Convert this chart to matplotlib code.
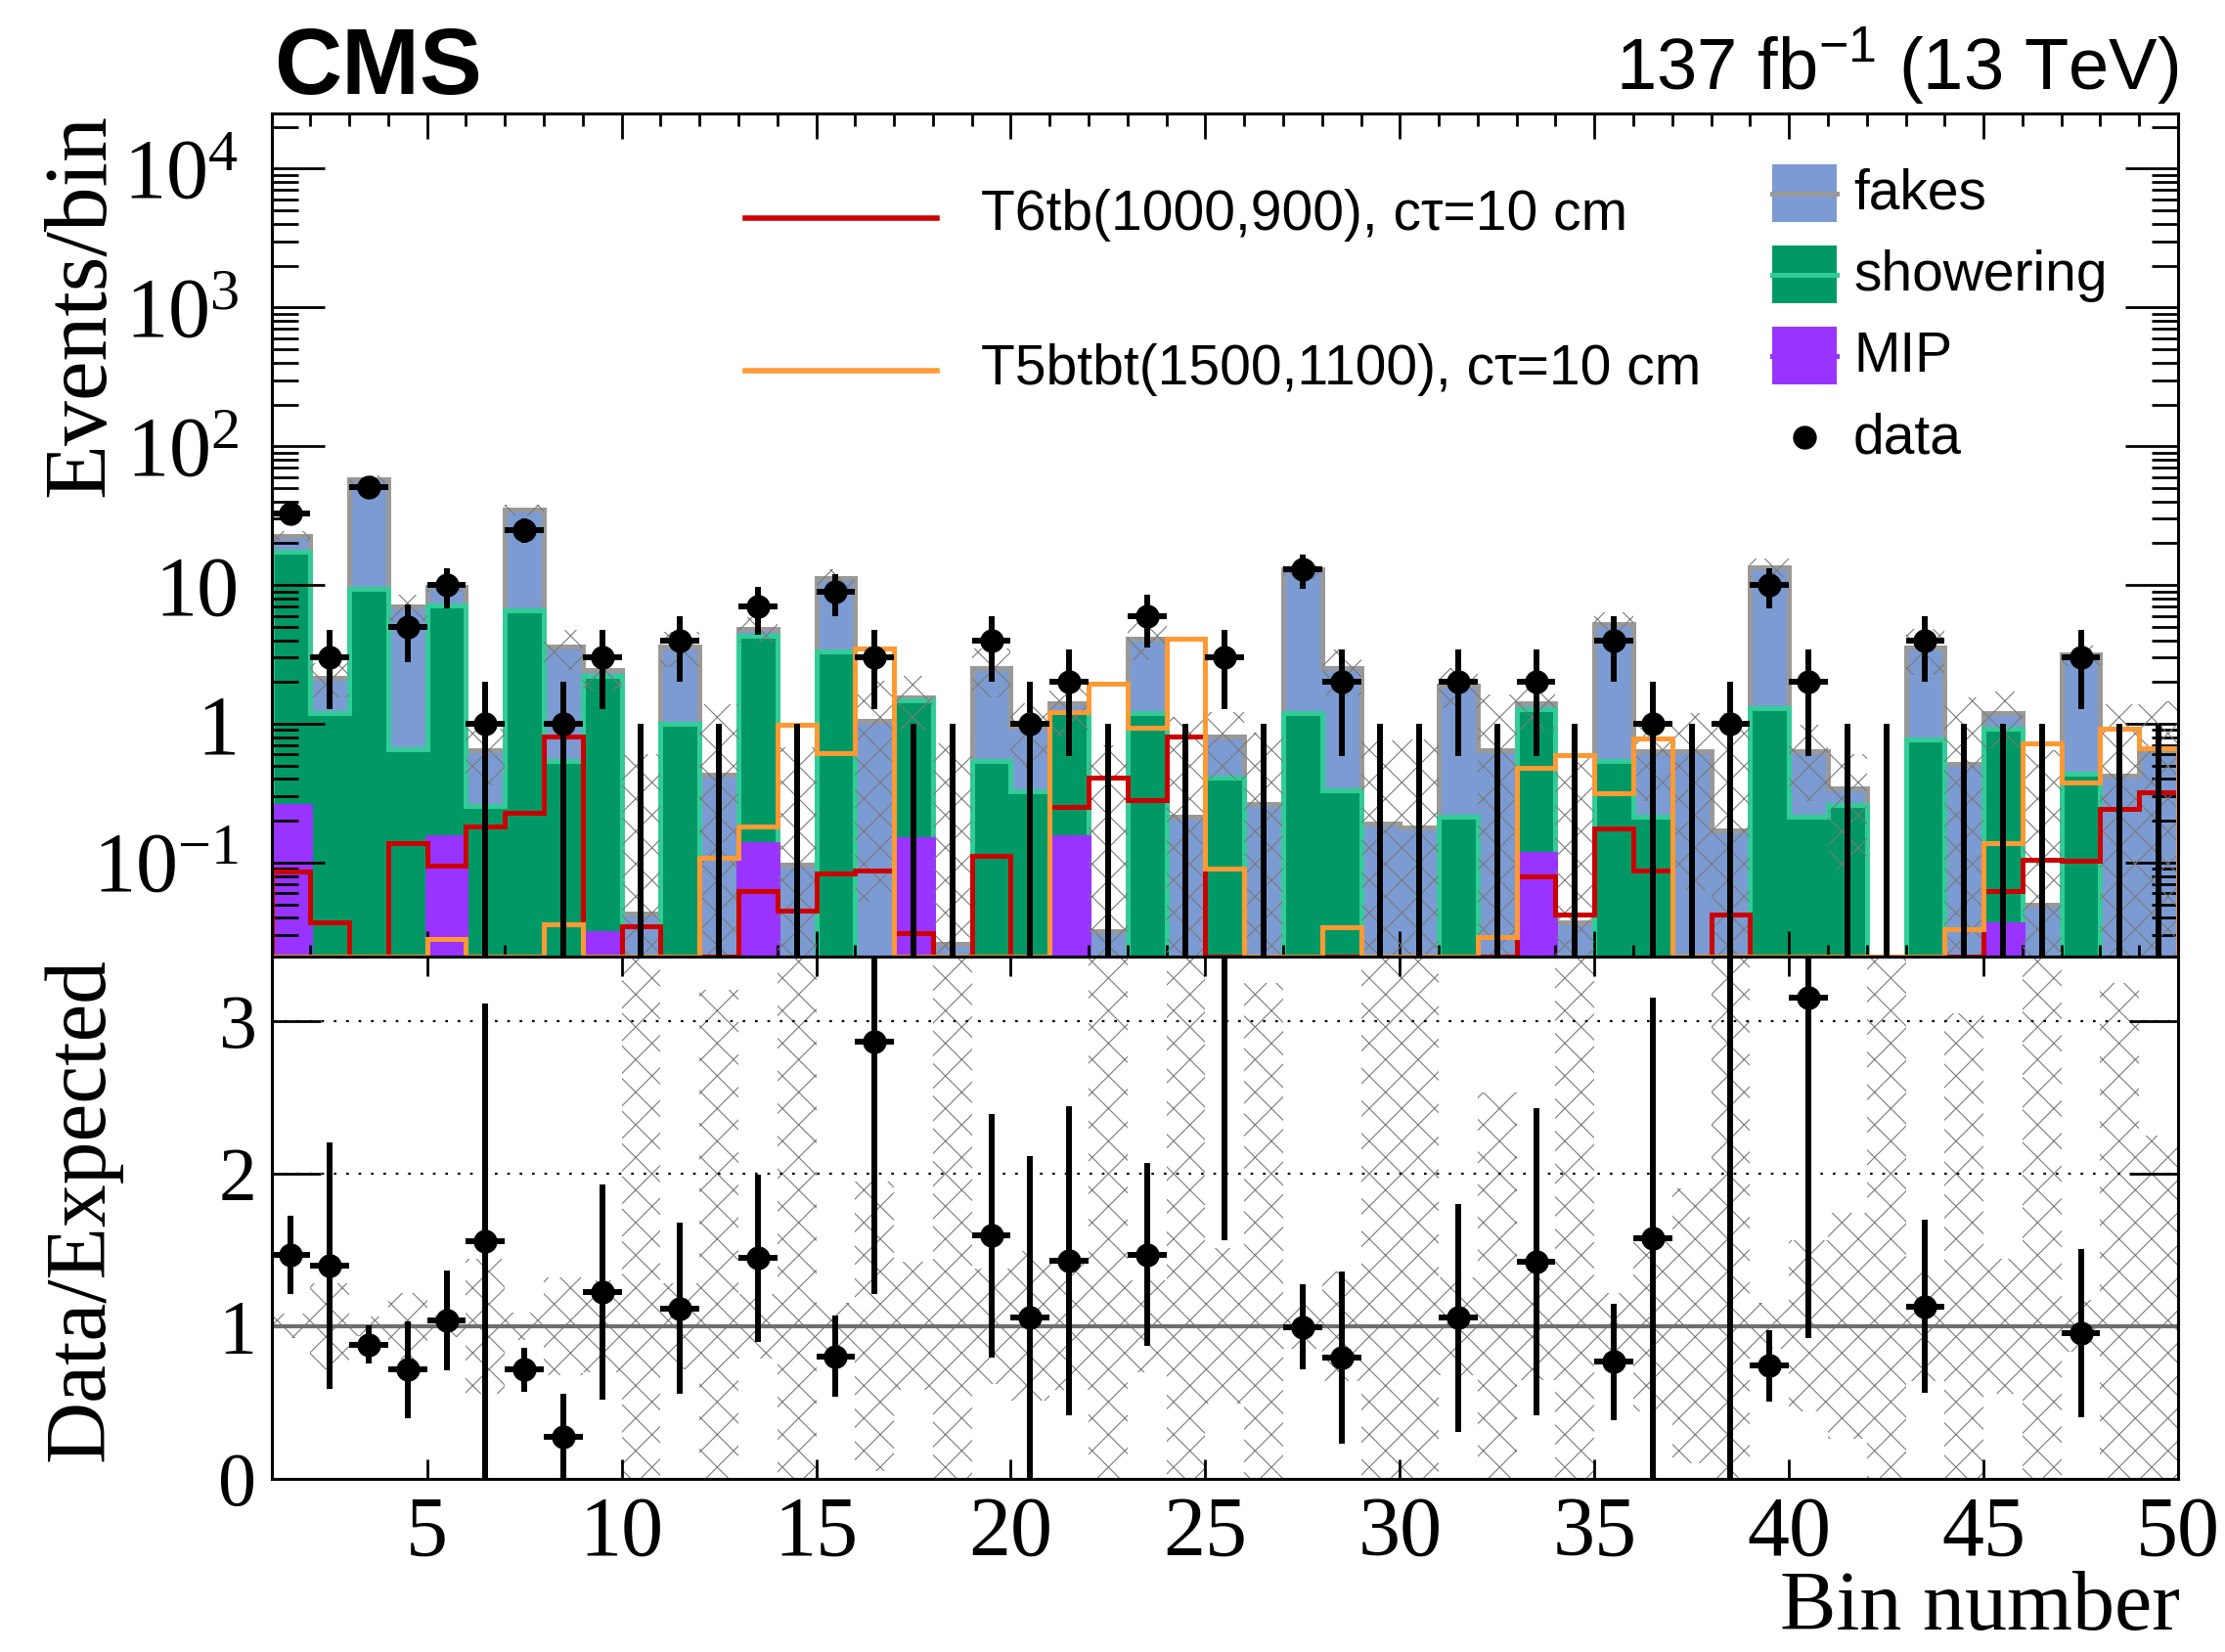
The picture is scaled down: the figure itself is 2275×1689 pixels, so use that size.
import numpy as np
import matplotlib
matplotlib.use("Agg")
import matplotlib.pyplot as plt
from matplotlib.patches import Rectangle
from matplotlib.ticker import (MultipleLocator, LogLocator, FixedLocator,
                               FuncFormatter, NullFormatter, NullLocator)

plt.rcParams["font.family"] = "Liberation Serif"
plt.rcParams["mathtext.fontset"] = "custom"
plt.rcParams["mathtext.rm"] = "Liberation Serif"
plt.rcParams["hatch.linewidth"] = 0.8

SANS = "Liberation Sans"

# colours of the background components and signals
c_fakes = "#7b9bd2"
c_fakes_line = "#999999"
c_show = "#009966"
c_show_line = "#33cc99"
c_mip = "#9933ff"
c_t6tb = "#cc0000"
c_t5btbt = "#ff9933"

# bin contents, bins 1..49
data_obs = [33, 3, 51, 5, 10, 1, 25, 1, 3, 0,
            4, 0, 7, 0, 9, 3, 0, 0, 4, 1,
            2, 0, 6, 0, 3, 0, 13, 2, 0, 0,
            2, 0, 2, 0, 4, 1, 0, 1, 10, 2,
            0, 0, 4, 0, 0, 0, 3, 0, 0]

mip = [0.257, 0, 0, 0, 0.151, 0, 0, 0, 0.031, 0,
       0, 0, 0.136, 0, 0, 0, 0.147, 0, 0, 0,
       0.151, 0, 0, 0, 0, 0, 0, 0, 0, 0,
       0, 0, 0.116, 0, 0, 0, 0, 0, 0, 0,
       0, 0, 0, 0, 0.036, 0, 0, 0, 0]

showering = [17.24, 1.19, 9.4, 0.66, 6.95, 0.257, 6.6, 0.54, 2.19, 0,
             1.0, 0, 4.19, 0, 3.3, 0, 1.32, 0, 0.54, 0.326,
             1.06, 0, 1.19, 0, 0.41, 0, 1.19, 0.33, 0, 0,
             0.215, 0, 1.15, 0, 0.54, 0.215, 0, 0, 1.3, 0.215,
             0.26, 0, 0.77, 0, 0.884, 0, 0.44, 0, 0]

fakes = [5.0, 0.96, 48.6, 6.34, 2.53, 0.385, 28.3, 3.07, 0.23, 0.043,
         2.58, 0.43, 0.52, 0.097, 7.9, 1.047, 0.09, 0.026, 1.97, 0.62,
         0.19, 0.032, 2.9, 0.215, 0.40, 0.265, 11.87, 2.19, 0.19, 0.178,
         1.68, 0.64, 0.14, 0.037, 4.68, 0.42, 0.63, 0.17, 12.2, 0.42,
         0.085, 0.005, 2.77, 0.51, 0.27, 0.0495, 2.7, 0.425, 0.64]

# relative uncertainty of the total expectation
rel_unc = [0.08, 0.28, 0.065, 0.216, 0.07, 0.44, 0.09, 0.32, 0.30, 13,
           0.28, 2.2, 0.21, 6, 0.15, 0.95, 0.42, 27, 0.38, 0.49,
           0.42, 21, 0.30, 4.2, 0.51, 2.25, 0.15, 0.36, 3.0, 3.3,
           0.32, 1.53, 0.35, 15, 0.22, 0.56, 0.9, 6, 0.15, 0.56,
           0.74, 3, 0.36, 2.05, 0.44, 12, 0.17, 2.25, 1.25]

t6tb = [0.086, 0.037, 0, 0.138, 0.095, 0.183, 0.229, 0.81, 0, 0.035,
        0, 0, 0.062, 0.045, 0.084, 0.088, 0.031, 0, 0.111, 0,
        0.25, 0.41, 0.28, 0.81, 0, 0, 0, 0, 0, 0,
        0, 0, 0.08, 0.042, 0.175, 0.088, 0, 0.042, 0, 0,
        0, 0, 0, 0, 0.062, 0.105, 0.103, 0.245, 0.32]

t5btbt = [0, 0, 0, 0, 0.028, 0, 0, 0.036, 0, 0,
          0, 0.109, 0.183, 0.99, 0.616, 3.5, 0, 0, 0, 0,
          1.21, 1.94, 0.94, 4.1, 0.09, 0, 0, 0.034, 0, 0,
          0, 0.029, 0.48, 0.59, 0.316, 0.78, 0, 0, 0, 0,
          0, 0, 0, 0.033, 0.138, 0.72, 0.376, 0.92, 0.67]

edges = np.arange(1, 51)
centers = edges[:-1] + 0.5
FLOOR = 1e-3
YMIN, YMAX = 0.021, 2.5e4

W, H = 2275, 1689
fig = plt.figure(figsize=(W / 100, H / 100), dpi=100)


def px_rect(x0, y0, x1, y1):
    # pixel box measured from the top-left corner -> figure fractions
    return [x0 / W, 1 - y1 / H, (x1 - x0) / W, (y1 - y0) / H]


ax1 = fig.add_axes(px_rect(277.5, 116, 2227, 978))
ax2 = fig.add_axes(px_rect(277.5, 978, 2227, 1512))

mip_a = np.array(mip)
show_a = np.array(showering)
fakes_a = np.array(fakes)
lvl_green = mip_a + show_a
total = lvl_green + fakes_a
rel = np.array(rel_unc)
obs = np.array(data_obs, dtype=float)

# ---- upper panel: stacked backgrounds, drawn from the top level down
for lvl, fc, lc, z in [(total, c_fakes, c_fakes_line, 1.0),
                       (lvl_green, c_show, c_show_line, 1.2),
                       (mip_a, c_mip, c_mip, 1.4)]:
    v = np.clip(lvl, FLOOR, None)
    ax1.stairs(v, edges, baseline=FLOOR, fill=True, color=fc, lw=0, zorder=z)
    ax1.stairs(v, edges, baseline=FLOOR, color=lc, lw=3.6, zorder=z + 0.1)

unc_lo = np.clip(total * (1 - rel), FLOOR, None)
unc_hi = total * (1 + rel)
ax1.bar(centers, unc_hi - unc_lo, bottom=unc_lo, width=1.0, fill=False,
        hatch="x", edgecolor="#7a7a7a", lw=0, zorder=1.6)

ax1.stairs(np.clip(t6tb, YMIN, None), edges, baseline=YMIN,
           color=c_t6tb, lw=3.6, zorder=2.0)
ax1.stairs(np.clip(t5btbt, YMIN, None), edges, baseline=YMIN,
           color=c_t5btbt, lw=3.6, zorder=2.1)

pos = obs > 0
err = np.sqrt(obs)
err_lo = obs - np.clip(obs - err, FLOOR, None)
ax1.errorbar(centers[pos], obs[pos], xerr=0.5, yerr=[err_lo[pos], err[pos]],
             fmt="o", color="k", ms=16.5, elinewidth=4.3, capsize=0, zorder=3)
ax1.vlines(centers[~pos], FLOOR, 1.0, color="k", lw=4.3, zorder=3)

ax1.set_yscale("log")
ax1.set_xlim(1, 50)
ax1.set_ylim(YMIN, YMAX)


def decade_label(v, _pos):
    e = int(round(np.log10(v)))
    if e == 0:
        return "1"
    if e == 1:
        return "10"
    return r"$\mathdefault{10^{%d}}$" % e


ax1.yaxis.set_major_locator(LogLocator(base=10, numticks=20))
ax1.yaxis.set_minor_locator(LogLocator(base=10, subs=np.arange(2, 10), numticks=20))
ax1.yaxis.set_major_formatter(FuncFormatter(decade_label))
ax1.yaxis.set_minor_formatter(NullFormatter())
ax1.xaxis.set_major_locator(MultipleLocator(5))
ax1.xaxis.set_minor_locator(MultipleLocator(1))
ax1.tick_params(which="both", direction="in", top=True, right=True, width=2,
                labelbottom=False)
ax1.tick_params(axis="y", which="major", length=39, labelsize=62, pad=24)
ax1.tick_params(axis="y", which="minor", length=19.5)
ax1.tick_params(axis="x", which="major", length=19)
ax1.tick_params(axis="x", which="minor", length=9)

# ---- lower panel: data / expected
r_lo = np.clip(1 - rel, 0, None)
r_hi = np.minimum(1 + rel, 10)
ax2.bar(centers, r_hi - r_lo, bottom=r_lo, width=1.0, fill=False,
        hatch="x", edgecolor="#7a7a7a", lw=0, zorder=1)
ax2.axhline(1.0, color="#6e6e6e", lw=3, zorder=2)
for g in (2, 3):
    ax2.axhline(g, color="k", lw=1.6, ls=(0, (1.2, 4.5)), zorder=2)

ok = pos & (total > 0)
ratio = obs / total
ratio_err = err / total
ax2.errorbar(centers[ok], ratio[ok], xerr=0.5, yerr=ratio_err[ok],
             fmt="o", color="k", ms=16.5, elinewidth=4.3, capsize=0, zorder=3)

ax2.set_xlim(1, 50)
ax2.set_ylim(0, 3.42)
ax2.xaxis.set_major_locator(MultipleLocator(5))
ax2.xaxis.set_minor_locator(NullLocator())
ax2.yaxis.set_major_locator(FixedLocator([0, 1, 2, 3]))
ax2.yaxis.set_minor_locator(NullLocator())
ax2.tick_params(which="both", direction="in", top=True, right=True, width=2)
ax2.tick_params(axis="y", length=36, labelsize=56, pad=11)
ax2.tick_params(axis="x", length=14.4, labelsize=62, pad=12)

for ax in (ax1, ax2):
    for sp in ax.spines.values():
        sp.set_linewidth(2.2)
        sp.set_zorder(4)

# ---- overlay in pixel coordinates for titles and legends
ov = fig.add_axes([0, 0, 1, 1], zorder=5)
ov.set_xlim(0, W)
ov.set_ylim(H, 0)
ov.axis("off")

ov.text(280, 96, "CMS", family=SANS, weight="bold", fontsize=69,
        ha="left", va="baseline")
ov.text(2227, 93, r"137 fb$^{\mathdefault{-1}}$ (13 TeV)", family=SANS,
        fontsize=53.5, ha="right", va="baseline")

ov.text(84, 116, "Events/bin", rotation=90, fontsize=66, ha="center", va="top")
ov.text(84, 979, "Data/Expected", rotation=90, fontsize=63, ha="center", va="top")
ov.text(2229, 1666, "Bin number", fontsize=62, ha="right", va="baseline")

# signal legend
ov.plot([762, 958], [223, 223], color=c_t6tb, lw=4)
ov.text(1003, 235, "T6tb(1000,900), cτ=10 cm", family=SANS, fontsize=41,
        va="baseline")
ov.plot([762, 958], [379, 379], color=c_t5btbt, lw=4)
ov.text(1003, 393, "T5btbt(1500,1100), cτ=10 cm", family=SANS, fontsize=41,
        va="baseline")

# background legend
for top, fc, lc, label, base in [(168, c_fakes, c_fakes_line, "fakes", 213),
                                 (251, c_show, c_show_line, "showering", 297),
                                 (334, c_mip, c_mip, "MIP", 380)]:
    ov.add_patch(Rectangle((1812, top), 66, 59, facecolor=fc, edgecolor="none"))
    ov.plot([1812, 1878], [top + 29.5] * 2, color=lc, lw=3.6)
    ov.text(1895, base, label, family=SANS, fontsize=41, va="baseline")
ov.plot([1845], [447], "o", color="k", ms=16.5)
ov.text(1895, 463, "data", family=SANS, fontsize=41, va="baseline")

fig.savefig("out.png", dpi=100)
